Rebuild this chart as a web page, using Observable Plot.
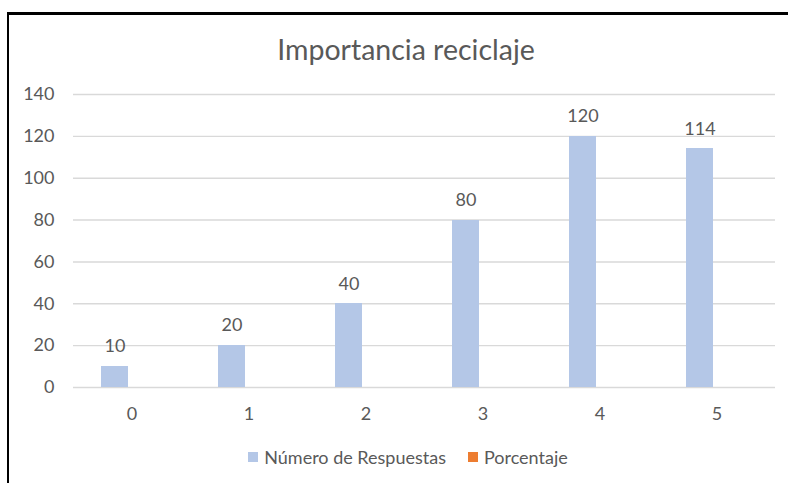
<!DOCTYPE html>
<html>
<head>
<meta charset="utf-8">
<script src="https://cdn.jsdelivr.net/npm/d3@7"></script>
<script src="https://cdn.jsdelivr.net/npm/@observablehq/plot@0.6"></script>
<style>
  html, body { margin: 0; padding: 0; background: #fff; }
  body { width: 788px; height: 483px; position: relative; overflow: hidden; font-family: Lato, "Open Sans", sans-serif; color: #595959; }
  #frame { position: absolute; left: 7px; top: 12px; width: 800px; height: 500px; border-top: 3px solid #000; border-left: 2px solid #000; box-sizing: border-box; }
  #title { position: absolute; left: 0; width: 812px; top: 33px; text-align: center; font-size: 28.5px; line-height: 32px; color: #595959; }
  #chart { position: absolute; left: 0; top: 70px; }
  #legend { position: absolute; left: 0; width: 816px; top: 446px; display: flex; justify-content: center; align-items: center; font-size: 18px; line-height: 22px; color: #595959; }
  .item { display: flex; align-items: center; margin: 0 11px; }
  .sw { width: 10px; height: 10px; margin-right: 6px; }
</style>
</head>
<body>
<div id="frame"></div>
<div id="title">Importancia reciclaje</div>
<div id="chart"></div>
<div id="legend"></div>
<script>
const categorias = ["0", "1", "2", "3", "4", "5"];
const respuestas = [10, 20, 40, 80, 120, 114];
const porcentaje = [0, 0, 0, 0, 0, 0];
const series = ["Número de Respuestas", "Porcentaje"];
const colores = ["#B4C7E7", "#ED7D31"];
const yTicks = [0, 20, 40, 60, 80, 100, 120, 140];

const data = categorias.flatMap((c, i) => [
  {cat: c, serie: series[0], valor: respuestas[i]},
  {cat: c, serie: series[1], valor: porcentaje[i]}
]);

const chart = Plot.plot({
  width: 788,
  height: 360,
  marginLeft: 71,
  marginRight: 11,
  marginTop: 24,
  marginBottom: 43,
  style: {fontFamily: "Lato, 'Open Sans', sans-serif", fontSize: "18px", color: "#595959", background: "transparent"},
  fx: {domain: categorias, padding: 0, label: null, axis: "bottom", tickSize: 0, tickPadding: 20},
  x: {domain: series, axis: null, paddingInner: 0.213, paddingOuter: 0.82},
  y: {domain: [0, 140], ticks: 7, label: null, tickSize: 0, tickPadding: 19},
  color: {domain: series, range: colores},
  marks: [
    Plot.ruleY(yTicks, {stroke: "#D9D9D9", strokeWidth: 1.4}),
    Plot.barY(data, {fx: "cat", x: "serie", y: "valor", fill: "serie", shapeRendering: "crispEdges"}),
    Plot.text(data.filter(d => d.serie === series[0]), {fx: "cat", x: "serie", y: "valor", text: d => String(d.valor), dy: -20, fill: "#595959", fontSize: 18})
  ]
});
document.getElementById("chart").appendChild(chart);

const legend = document.getElementById("legend");
series.forEach((s, i) => {
  const item = document.createElement("div");
  item.className = "item";
  const sw = document.createElement("div");
  sw.className = "sw";
  sw.style.background = colores[i];
  const label = document.createElement("span");
  label.textContent = s;
  item.appendChild(sw);
  item.appendChild(label);
  legend.appendChild(item);
});
</script>
</body>
</html>
